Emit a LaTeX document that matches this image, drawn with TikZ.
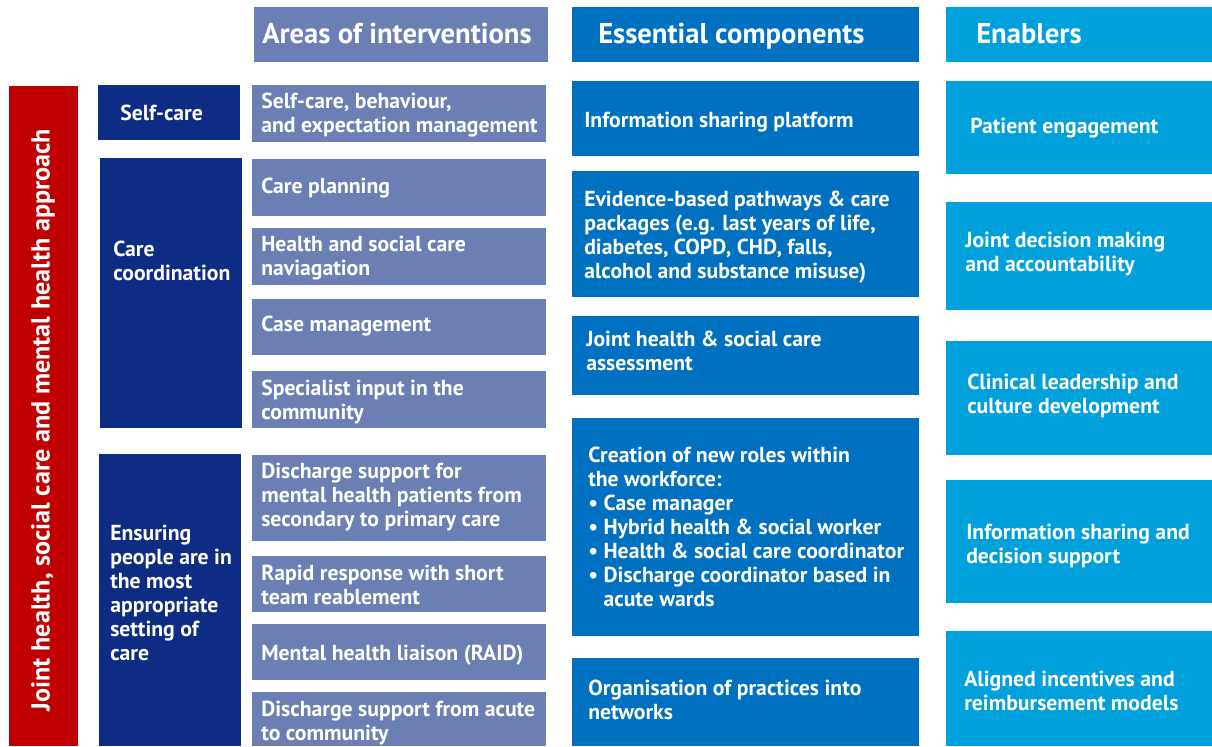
\documentclass[tikz,border=0pt]{standalone}
\usepackage{fontspec}
\setmainfont{PT Sans}
\newcommand{\pxu}{0.75pt}
\definecolor{areablue}{HTML}{6B7FB4}
\definecolor{navyblue}{HTML}{0C2D83}
\definecolor{compblue}{HTML}{0070C0}
\definecolor{enabblue}{HTML}{00A0DD}
\definecolor{approachred}{HTML}{C00000}
\tikzset{box/.style = {anchor = north west, inner sep = 0, outer sep = 0}}
\tikzset{area/.style = {box, fill = areablue, minimum width = 294*\pxu}}
\tikzset{comp/.style = {box, fill = compblue, minimum width = 347*\pxu}}
\tikzset{enab/.style = {box, fill = enabblue, minimum width = 266*\pxu}}
\tikzset{navy/.style = {box, fill = navyblue, minimum width = 142*\pxu}}
\tikzset{txt/.style = {anchor = west, inner sep = 0, text = white, align = left,
                       font = \bfseries\fontsize{16.3}{18}\selectfont}}
\tikzset{headtxt/.style = {txt, text height = 18pt, text depth = 3.8pt,
                           font = \bfseries\fontsize{21.5}{24}\selectfont}}

\begin{document}
\begin{tikzpicture}[x = 0.75pt, y = -0.75pt]
    \useasboundingbox (0, 0) rectangle (1212, 746);

    % column heads
    \node [area, minimum height = 55*\pxu] (hArea) at (254, 7) {};
    \node [comp, minimum height = 55*\pxu] (hComp) at (572, 7) {};
    \node [enab, minimum height = 55*\pxu] (hEnab) at (946, 7) {};
    \node [headtxt] at ([shift = {(8, 0)}]hArea.west) {Areas of interventions};
    \node [headtxt] at ([shift = {(26, 0)}]hComp.west) {Essential components};
    \node [headtxt] at ([shift = {(30, 0)}]hEnab.west) {Enablers};

    % approach bar
    \node [box, fill = approachred, minimum width = 69*\pxu, minimum height = 660*\pxu] (approach) at (9, 86) {};
    \node [txt, anchor = center, rotate = 90, font = \bfseries\fontsize{19.6}{22}\selectfont]
      at (43, 420) {Joint health, social care and mental health approach};

    % levels
    \node [navy, minimum height = 55*\pxu] (selfcare) at (98, 85) {};
    \node [navy, minimum height = 270*\pxu] (coord) at (100, 158) {};
    \node [navy, minimum height = 292*\pxu] (ensure) at (99, 454) {};
    \node [txt] at ([shift = {(22, 0)}]selfcare.west) {Self-care};
    \node [txt] at (113, 261) {Care\\coordination};
    \node [txt] at (110, 593) {Ensuring\\people are in\\the most\\appropriate\\setting of\\care};

    % areas of interventions
    \node [area, minimum height = 57*\pxu] (a1) at (252, 85) {};
    \node [area, minimum height = 57*\pxu] (a2) at (252, 159) {};
    \node [area, minimum height = 57*\pxu] (a3) at (252, 228) {};
    \node [area, minimum height = 56*\pxu] (a4) at (252, 299) {};
    \node [area, minimum height = 57*\pxu] (a5) at (252, 371) {};
    \node [area, minimum height = 86*\pxu] (a6) at (252, 455) {};
    \node [area, minimum height = 56*\pxu] (a7) at (252, 556) {};
    \node [area, minimum height = 56*\pxu] (a8) at (252, 624) {};
    \node [area, minimum height = 54*\pxu] (a9) at (252, 692) {};
    \node [txt] at ([shift = {(9, 1.5)}]a1.west) {Self-care, behaviour,\\and expectation management};
    \node [txt] at ([shift = {(9, 1)}]a2.west) {Care planning};
    \node [txt] at ([shift = {(9, 2)}]a3.west) {Health and social care\\naviagation};
    \node [txt] at ([shift = {(9, -1)}]a4.west) {Case management};
    \node [txt] at ([shift = {(9, 2)}]a5.west) {Specialist input in the\\community};
    \node [txt] at ([shift = {(9, -1)}]a6.west) {Discharge support for\\mental health patients from\\secondary to primary care};
    \node [txt] at ([shift = {(9, 1)}]a7.west) {Rapid response with short\\team reablement};
    \node [txt] at ([shift = {(9, 3)}]a8.west) {Mental health liaison (RAID)};
    \node [txt] at ([shift = {(9, 4)}]a9.west) {Discharge support from acute\\to community};

    % essential components
    \node [comp, minimum height = 75*\pxu] (c1) at (572, 81) {};
    \node [comp, minimum height = 126*\pxu] (c2) at (572, 171) {};
    \node [comp, minimum height = 79*\pxu] (c3) at (572, 316) {};
    \node [comp, minimum height = 218*\pxu] (c4) at (572, 418) {};
    \node [comp, minimum height = 88*\pxu] (c5) at (572, 658) {};
    \node [txt] at ([shift = {(12, 4)}]c1.west) {Information sharing platform};
    \node [txt] at ([shift = {(12, 3)}]c2.west) {Evidence-based pathways \& care\\packages (e.g. last years of life,\\diabetes, COPD, CHD, falls,\\alcohol and substance misuse)};
    \node [txt] at ([shift = {(14, -5)}]c3.west) {Joint health \& social care\\assessment};
    \node [txt] at ([shift = {(16, 0)}]c4.west) {Creation of new roles within\\the workforce:\\\textbullet\ Case manager\\\textbullet\ Hybrid health \& social worker\\\textbullet\ Health \& social care coordinator\\\textbullet\ Discharge coordinator based in\\\phantom{\textbullet\ }acute wards};
    \node [txt] at ([shift = {(16, -2)}]c5.west) {Organisation of practices into\\networks};

    % enablers
    \node [enab, minimum height = 93*\pxu] (e1) at (946, 81) {};
    \node [enab, minimum height = 108*\pxu] (e2) at (946, 202) {};
    \node [enab, minimum height = 114*\pxu] (e3) at (946, 341) {};
    \node [enab, minimum height = 123*\pxu] (e4) at (946, 480) {};
    \node [enab, minimum height = 115*\pxu] (e5) at (946, 631) {};
    \node [txt] at ([shift = {(24, 1)}]e1.west) {Patient engagement};
    \node [txt] at ([shift = {(19, -2)}]e2.west) {Joint decision making\\and accountability};
    \node [txt] at ([shift = {(21, -2)}]e3.west) {Clinical leadership and\\culture development};
    \node [txt] at ([shift = {(20, 4)}]e4.west) {Information sharing and\\decision support};
    \node [txt] at ([shift = {(18, 2)}]e5.west) {Aligned incentives and\\reimbursement models};
  \end{tikzpicture}
\end{document}
